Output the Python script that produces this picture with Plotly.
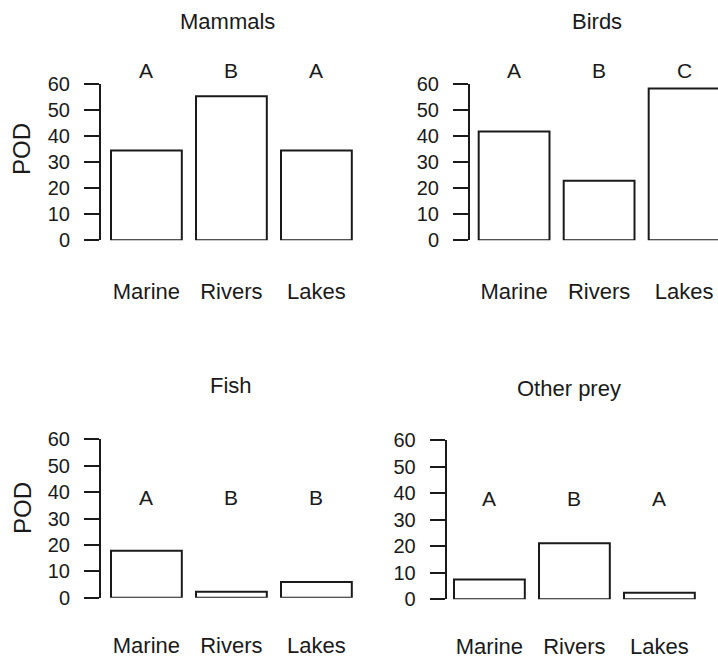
import plotly.graph_objects as go

# ---- data ----
categories = ["Marine", "Rivers", "Lakes"]
titles = ["Mammals", "Birds", "Fish", "Other prey"]
mammals = [34.4, 55.1, 34.4]
birds = [41.6, 22.8, 58.1]
fish = [17.8, 2.3, 5.9]
other_prey = [7.5, 21.1, 2.5]
letters_mammals = ["A", "B", "A"]
letters_birds = ["A", "B", "C"]
letters_fish = ["A", "B", "B"]
letters_other = ["A", "B", "A"]
y_ticks = [0, 10, 20, 30, 40, 50, 60]
y_max = 60
letter_height_top = 65
letter_height_bottom = 38

series = [mammals, birds, fish, other_prey]
letters = [letters_mammals, letters_birds, letters_fish, letters_other]
letter_y = [letter_height_top, letter_height_top, letter_height_bottom, letter_height_bottom]

# ---- layout (pixels) ----
W, H = 718, 659
FONT = "Liberation Sans, Arial, sans-serif"
INK = "#1a1a1a"
BARGAP = 0.167
PX_PER_CAT = 85.0
# per panel: axis-line x, first bar left x, right edge x, y(60) px, y(0) px, title (x,y), POD y, label standoff
panels = [
    dict(L=101, b1=111, R=370, top=83.5, bot=240.3, tx=227, ty=22, pod=149, so=36),
    dict(L=470, b1=478.7, R=718, top=83.5, bot=240.3, tx=597, ty=22, pod=None, so=36),
    dict(L=101, b1=111, R=370, top=439.3, bot=597.7, tx=231, ty=385, pod=508, so=32),
    dict(L=446.7, b1=454, R=718, top=440, bot=599.3, tx=569, ty=388, pod=None, so=32),
]

fig = go.Figure()
annotations = []
half = (1 - BARGAP) / 2
for i, (p, vals, lets, ly, title) in enumerate(zip(panels, series, letters, letter_y, titles)):
    k = "" if i == 0 else str(i + 1)
    xa, ya = "x" + k, "y" + k
    fig.add_trace(go.Bar(
        x=categories, y=vals, xaxis=xa, yaxis=ya,
        marker=dict(color="white", line=dict(color=INK, width=2)),
        cliponaxis=False, showlegend=False, hoverinfo="skip",
    ))
    xL = -half - (p["b1"] - p["L"]) / PX_PER_CAT
    xR = xL + (p["R"] - p["L"]) / PX_PER_CAT
    fig.layout["xaxis" + k] = dict(
        domain=[p["L"] / W, p["R"] / W], range=[xL, xR], anchor=ya,
        showline=False, ticks="", showgrid=False, zeroline=False, automargin=False,
        tickfont=dict(family=FONT, size=22, color=INK),
        ticklabelstandoff=p["so"], fixedrange=True,
    )
    fig.layout["yaxis" + k] = dict(
        domain=[1 - p["bot"] / H, 1 - p["top"] / H], range=[0, y_max], anchor=xa,
        tickvals=y_ticks, showline=True, linewidth=2, linecolor=INK,
        ticks="outside", ticklen=15, tickwidth=2, tickcolor=INK,
        showgrid=False, zeroline=False, automargin=False,
        tickfont=dict(family=FONT, size=20, color=INK),
        ticklabelstandoff=10, fixedrange=True,
    )
    # significance letters above the bars
    for c, t in zip(categories, lets):
        annotations.append(dict(x=c, xref=xa, y=ly / y_max, yref=ya + " domain",
                                xanchor="center", yanchor="middle",
                                text=t, showarrow=False,
                                font=dict(family=FONT, size=21, color=INK)))
    annotations.append(dict(x=p["tx"] / W, y=1 - p["ty"] / H, xref="paper", yref="paper",
                            xanchor="center", yanchor="middle",
                            text=title, showarrow=False,
                            font=dict(family=FONT, size=22, color=INK)))
    if p["pod"] is not None:
        annotations.append(dict(x=22 / W, y=1 - p["pod"] / H, xref="paper", yref="paper",
                                xanchor="center", yanchor="middle",
                                text="POD", textangle=-90, showarrow=False,
                                font=dict(family=FONT, size=24, color=INK)))

fig.update_layout(
    template="none",
    width=W, height=H, margin=dict(l=0, r=0, t=0, b=0, autoexpand=False),
    paper_bgcolor="white", plot_bgcolor="white",
    bargap=BARGAP, annotations=annotations,
)
fig.write_html("out.html", config={"displayModeBar": False},
               post_script="document.body.style.margin='0px';")
